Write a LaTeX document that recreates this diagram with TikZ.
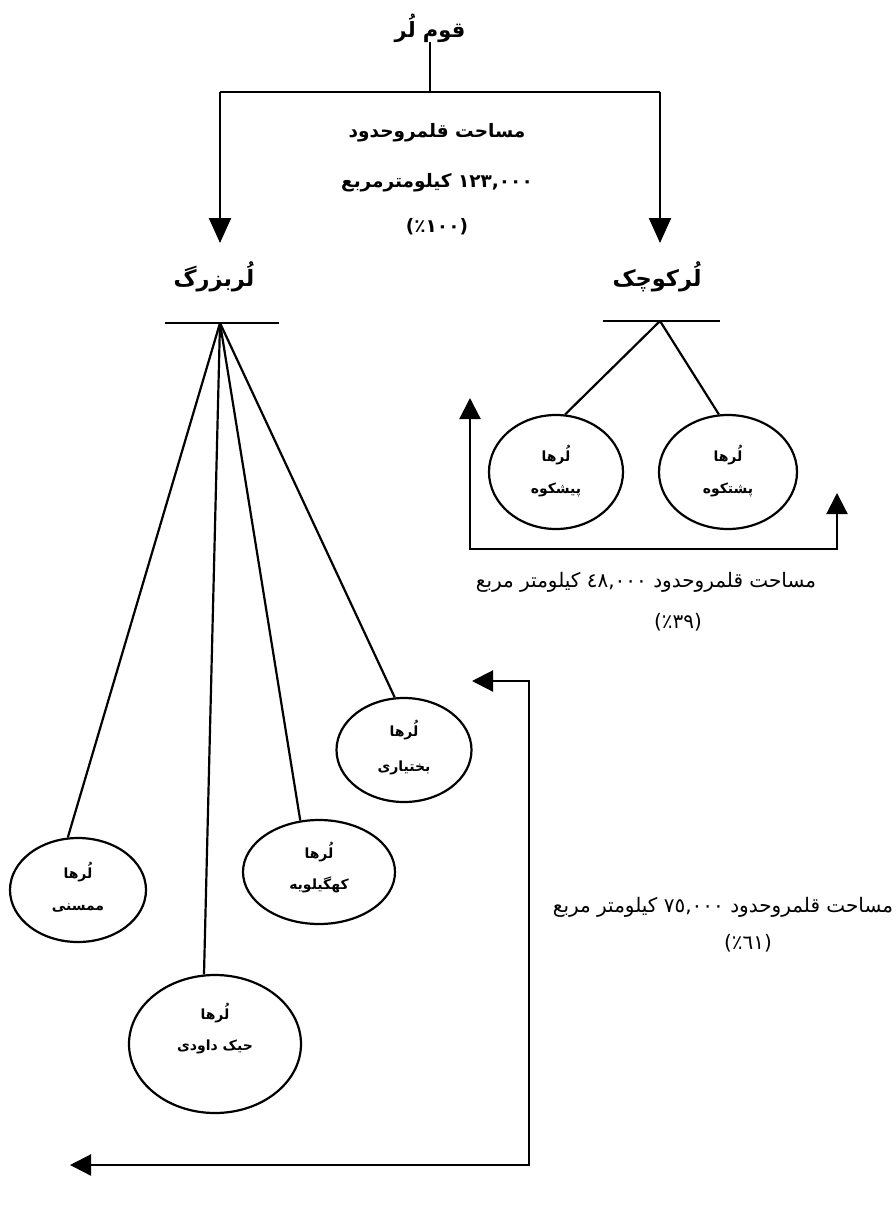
\documentclass[tikz,border=0pt]{standalone}
\usepackage{fontspec}
\usetikzlibrary{arrows.meta,shapes.geometric}
\newfontfamily\arabicfont[Script=Arabic]{DejaVu Sans}
\TeXXeTstate=1
\begin{document}
\begin{tikzpicture}[x=1pt,y=-1pt,
  conn/.style={line width=2.2pt},
  bigarrow/.style={line width=2.2pt,-{Triangle[length=25pt,width=22pt]}},
  bracketarrow/.style={line width=2.2pt,line join=miter,{Triangle[length=21pt,width=21pt]}-{Triangle[length=21pt,width=21pt]}},
  oval/.style={draw,ellipse,line width=2.2pt,inner sep=0pt},
  ttl/.style={font=\arabicfont\bfseries\fontsize{21}{25}\selectfont,inner sep=0pt},
  hdr/.style={font=\arabicfont\bfseries\fontsize{22.5}{26}\selectfont,inner sep=0pt},
  toptxt/.style={font=\arabicfont\bfseries\fontsize{18.5}{22}\selectfont,inner sep=0pt},
  sidetxt/.style={font=\arabicfont\fontsize{20}{24}\selectfont,inner sep=0pt},
  elbl/.style={font=\arabicfont\bfseries\fontsize{14}{17}\selectfont,inner sep=0pt}
]
\fill[white] (0,0) rectangle (896,1225);
\useasboundingbox (0,0) rectangle (896,1225);

% title and split
\node[ttl] (title) at (430,28) {\beginR قوم لُر\endR};
\coordinate (split) at (430,92);
\coordinate (lcorner) at (220,92);
\coordinate (rcorner) at (660,92);
\coordinate (ltip) at (220,243);
\coordinate (rtip) at (660,243);
\draw[conn] (title.south) -- (split);
\draw[conn] (lcorner) -- (rcorner);
\draw[bigarrow] (lcorner) -- (ltip);
\draw[bigarrow] (rcorner) -- (rtip);

\node[toptxt] (t1) at (437,133) {\beginR مساحت قلمروحدود\endR};
\node[toptxt] (t2) at (437,183) {\beginR ١٢٣,٠٠٠ کیلومترمربع\endR};
\node[toptxt] (t3) at (437,227) {(١٠٠٪)};

% headers
\node[hdr] (big) at (214,277) {\beginR لُربزرگ\endR};
\node[hdr] (small) at (657,277) {\beginR لُرکوچک\endR};

% bars
\coordinate (bigbarL) at (165,323);
\coordinate (bigbarR) at (279,323);
\coordinate (bigapex) at (220,323);
\coordinate (smallbarL) at (603,321);
\coordinate (smallbarR) at (720,321);
\coordinate (smallapex) at (660,321);
\draw[conn] (bigbarL) -- (bigbarR);
\draw[conn] (smallbarL) -- (smallbarR);

% small lur ellipses
\node[oval,minimum width=134pt,minimum height=114pt] (pish) at (556,472) {};
\node[oval,minimum width=138pt,minimum height=114pt] (posht) at (728,472) {};
\node[elbl] (pishA) at (556,455) {\beginR لُرها\endR};
\node[elbl] (pishB) at (556,490) {\beginR پیشکوه\endR};
\node[elbl] (poshtA) at (728,455) {\beginR لُرها\endR};
\node[elbl] (poshtB) at (728,490) {\beginR پشتکوه\endR};
\draw[conn] (smallapex) -- (pish.81);
\draw[conn] (smallapex) -- (posht.99);

% big lur ellipses
\node[oval,minimum width=135pt,minimum height=104pt] (bakh) at (404,750) {};
\node[oval,minimum width=152pt,minimum height=104pt] (kohg) at (319,872) {};
\node[oval,minimum width=136pt,minimum height=104pt] (mamas) at (78,890) {};
\node[oval,minimum width=172pt,minimum height=138pt] (davood) at (215,1044) {};
\node[elbl] (bakhA) at (404,730) {\beginR لُرها\endR};
\node[elbl] (bakhB) at (404,768) {\beginR بختیاری\endR};
\node[elbl] (kohgA) at (319,852) {\beginR لُرها\endR};
\node[elbl] (kohgB) at (319,885) {\beginR کهگیلویه\endR};
\node[elbl] (mamasA) at (78,872) {\beginR لُرها\endR};
\node[elbl] (mamasB) at (78,908) {\beginR ممسنی\endR};
\node[elbl] (davoodA) at (215,1013) {\beginR لُرها\endR};
\node[elbl] (davoodB) at (215,1047) {\beginR حیک داودی\endR};
\draw[conn] (bigapex) -- (bakh.100);
\draw[conn] (bigapex) -- (kohg.110);
\draw[conn] (bigapex) -- (mamas.101);
\draw[conn] (bigapex) -- (davood.99);

% bracket for small lur
\coordinate (b1tipL) at (470,398);
\coordinate (b1a) at (470,549);
\coordinate (b1b) at (837,549);
\coordinate (b1tipR) at (837,493);
\draw[bracketarrow] (b1tipL) -- (b1a) -- (b1b) -- (b1tipR);
\node[sidetxt] (m1) at (646,582) {\beginR مساحت قلمروحدود ٤٨,٠٠٠ کیلومتر مربع\endR};
\node[sidetxt] (m2) at (678,622) {(٣٩٪)};

% bracket for big lur
\coordinate (b2tipT) at (472,681);
\coordinate (b2a) at (529,681);
\coordinate (b2b) at (529,1165);
\coordinate (b2tipB) at (70,1165);
\draw[bracketarrow] (b2tipT) -- (b2a) -- (b2b) -- (b2tipB);
\node[sidetxt] (n1) at (723,907) {\beginR مساحت قلمروحدود ٧٥,٠٠٠ کیلومتر مربع\endR};
\node[sidetxt] (n2) at (748,943) {(٦١٪)};
\end{tikzpicture}
\end{document}
